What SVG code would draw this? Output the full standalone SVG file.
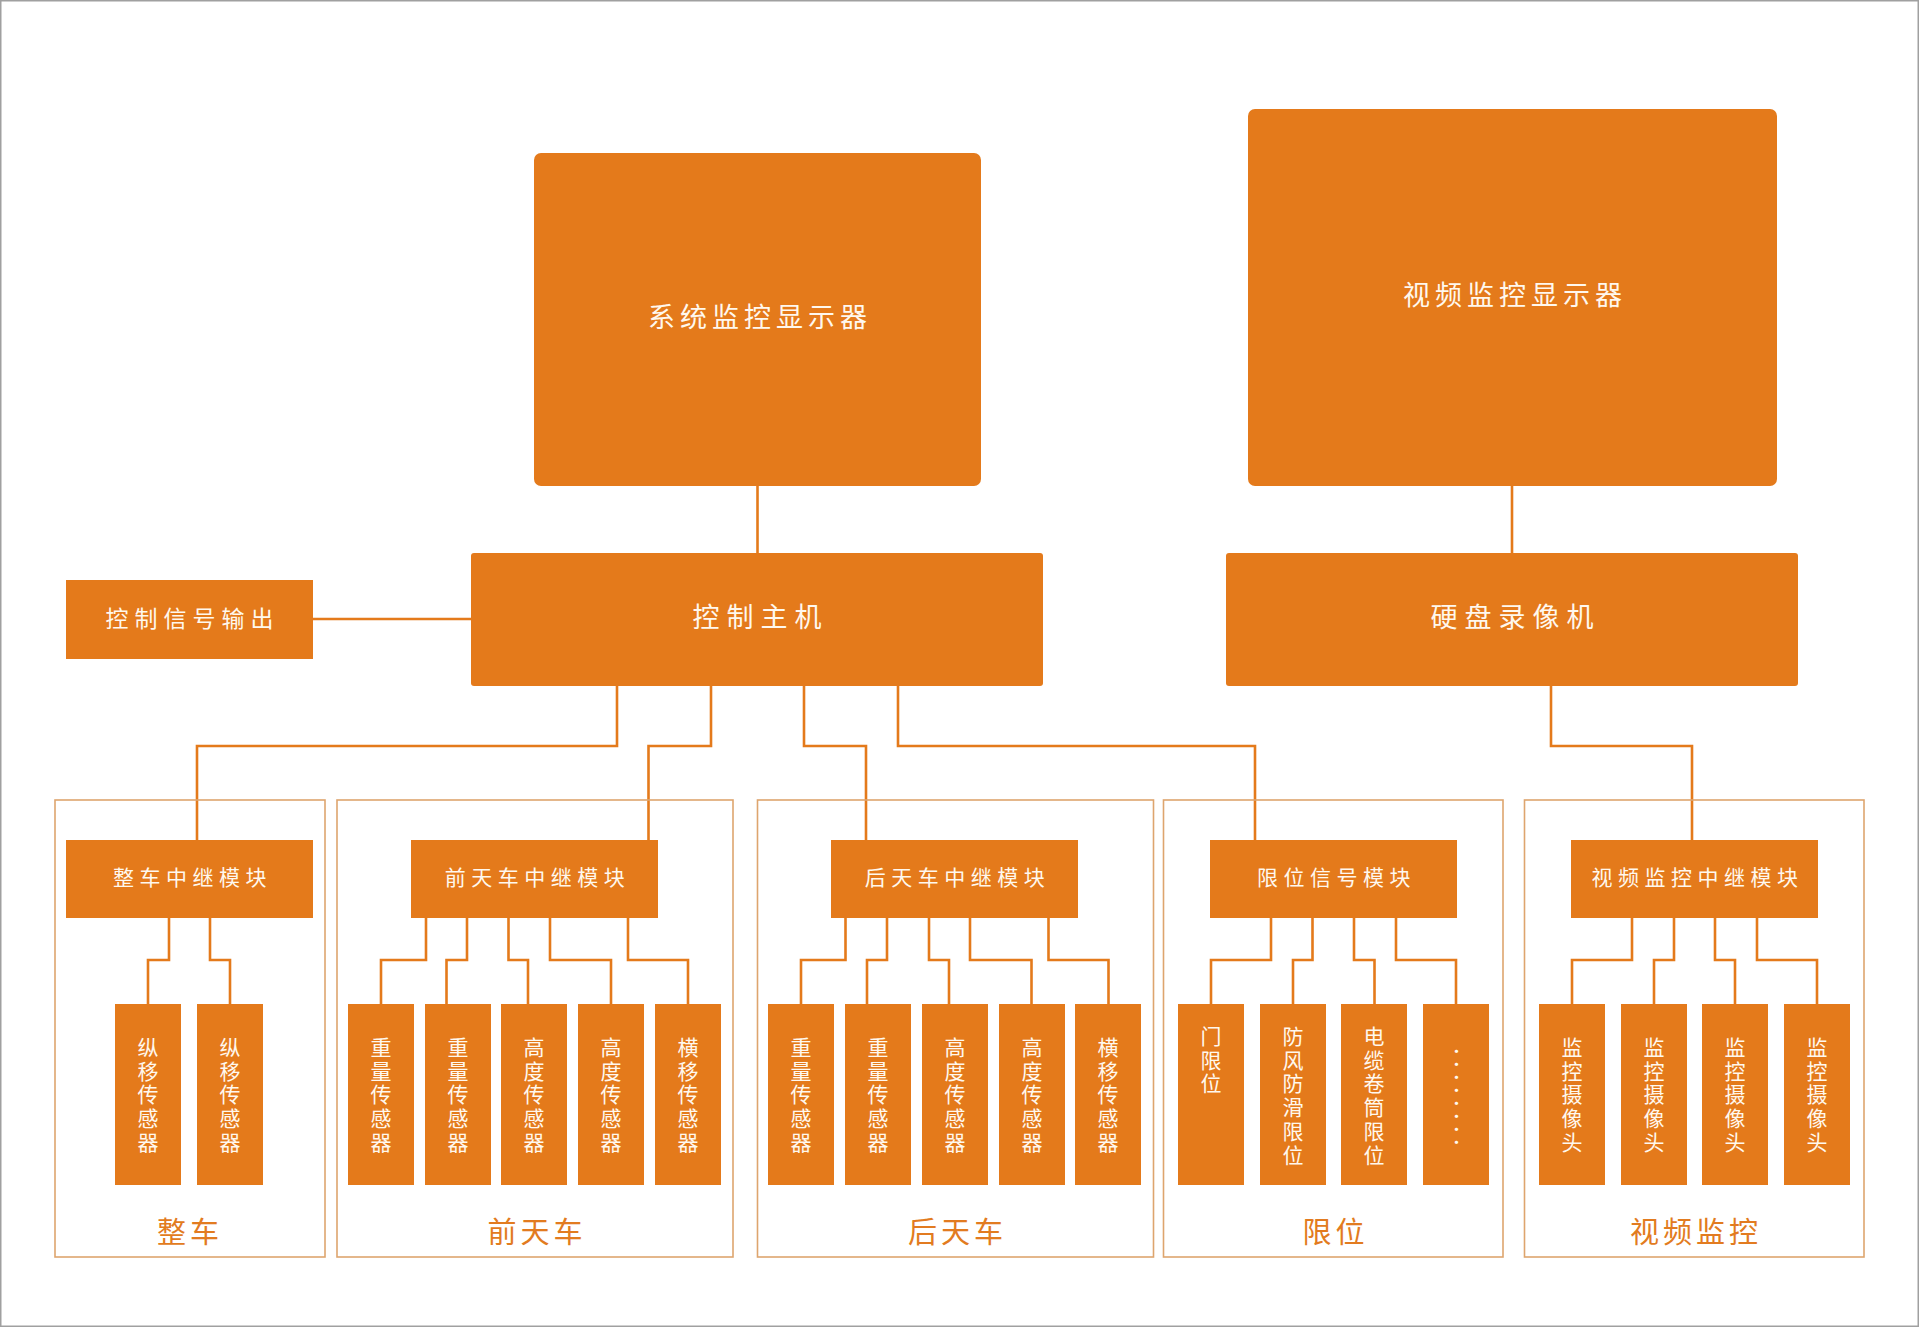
<svg xmlns="http://www.w3.org/2000/svg" width="1920" height="1327" viewBox="0 0 1920 1327">
<style>
.box{fill:#E47A1B}
.grp{fill:none;stroke:#DEA56E;stroke-width:1.6}
.wire{fill:none;stroke:#E47A1B;stroke-width:2.6}
text{font-family:"Noto Sans CJK SC","Noto Sans",sans-serif;fill:#FFF8EE;text-anchor:middle}
.big{font-size:27px;letter-spacing:5px}
.host{font-size:27px;letter-spacing:7px}
.mid{font-size:23px;letter-spacing:6px}
.relay{font-size:21px;letter-spacing:5.5px}
.vert{font-size:21px;letter-spacing:2.75px;writing-mode:vertical-rl;text-anchor:start}
.lbl{font-size:29px;letter-spacing:4px;fill:#E27B20}
.dots{font-size:13px;font-weight:700;writing-mode:vertical-rl;text-orientation:upright;text-anchor:start}
</style>
<rect x="0.75" y="0.75" width="1917.5" height="1325.5" fill="#FFFFFF" stroke="#A0A0A0" stroke-width="1.5"/>

<g id="connectors">
<path class="wire" d="M757.5,486V553"/>
<path class="wire" d="M1512,486V553"/>
<path class="wire" d="M313,619H471"/>
<path class="wire" d="M617,686V746H197V840"/>
<path class="wire" d="M711,686V746H648.5V840"/>
<path class="wire" d="M804,686V746H866V840"/>
<path class="wire" d="M898,686V746H1255V840"/>
<path class="wire" d="M1551,686V746H1692V840"/>
<path class="wire" d="M169,918V960H148V1004M210,918V960H230V1004"/>
<path class="wire" d="M426,918V960H381V1004M467,918V960H446.5V1004M508.5,918V960H528V1004M550,918V960H611V1004M628,918V960H688V1004"/>
<path class="wire" d="M845.5,918V960H801V1004M887,918V960H867V1004M929,918V960H949V1004M970,918V960H1031.5V1004M1048.5,918V960H1108.5V1004"/>
<path class="wire" d="M1271,918V960H1211V1004M1312.5,918V960H1293V1004M1354,918V960H1374.5V1004M1396,918V960H1456V1004"/>
<path class="wire" d="M1632,918V960H1572V1004M1674,918V960H1654V1004M1715,918V960H1735V1004M1757,918V960H1817V1004"/>
</g>

<g id="sys-monitor"><rect class="box" x="534" y="153" width="447" height="333" rx="7"/><text class="big" x="760" y="327">系统监控显示器</text></g>
<g id="video-monitor"><rect class="box" x="1248" y="109" width="529" height="377" rx="7"/><text class="big" x="1515" y="304.5">视频监控显示器</text></g>
<g id="control-host"><rect class="box" x="471" y="553" width="572" height="133" rx="3"/><text class="host" x="760.5" y="627">控制主机</text></g>
<g id="dvr"><rect class="box" x="1226" y="553" width="572" height="133" rx="3"/><text class="host" x="1515.5" y="627">硬盘录像机</text></g>
<g id="signal-out"><rect class="box" x="66" y="580" width="247" height="79"/><text class="mid" x="192.5" y="626.5">控制信号输出</text></g>

<g id="group-whole"><rect class="grp" x="55" y="800" width="270" height="457"/><text class="lbl" x="190" y="1242.5">整车</text></g>
<g id="group-front"><rect class="grp" x="337" y="800" width="396" height="457"/><text class="lbl" x="537" y="1242.5">前天车</text></g>
<g id="group-rear"><rect class="grp" x="757.5" y="800" width="396" height="457"/><text class="lbl" x="957.5" y="1242.5">后天车</text></g>
<g id="group-limit"><rect class="grp" x="1163.5" y="800" width="339.5" height="457"/><text class="lbl" x="1335.5" y="1242.5">限位</text></g>
<g id="group-video"><rect class="grp" x="1524.5" y="800" width="339.5" height="457"/><text class="lbl" x="1696" y="1242.5">视频监控</text></g>

<g id="relay-whole"><rect class="box" x="66" y="840" width="247" height="78"/><text class="relay" x="192.5" y="885">整车中继模块</text></g>
<g id="relay-front"><rect class="box" x="411" y="840" width="247" height="78"/><text class="relay" x="537.5" y="885">前天车中继模块</text></g>
<g id="relay-rear"><rect class="box" x="831" y="840" width="247" height="78"/><text class="relay" x="957.5" y="885">后天车中继模块</text></g>
<g id="relay-limit"><rect class="box" x="1210" y="840" width="247" height="78"/><text class="relay" x="1336.5" y="885">限位信号模块</text></g>
<g id="relay-video"><rect class="box" x="1571" y="840" width="247" height="78"/><text class="relay" x="1697.5" y="885">视频监控中继模块</text></g>

<g id="w1"><rect class="box" x="115" y="1004" width="66" height="181"/><text class="vert" x="148" y="1036.5">纵移传感器</text></g>
<g id="w2"><rect class="box" x="197" y="1004" width="66" height="181"/><text class="vert" x="230" y="1036.5">纵移传感器</text></g>

<g id="f1"><rect class="box" x="348" y="1004" width="66" height="181"/><text class="vert" x="381" y="1036.5">重量传感器</text></g>
<g id="f2"><rect class="box" x="425" y="1004" width="66" height="181"/><text class="vert" x="458" y="1036.5">重量传感器</text></g>
<g id="f3"><rect class="box" x="501" y="1004" width="66" height="181"/><text class="vert" x="534" y="1036.5">高度传感器</text></g>
<g id="f4"><rect class="box" x="578" y="1004" width="66" height="181"/><text class="vert" x="611" y="1036.5">高度传感器</text></g>
<g id="f5"><rect class="box" x="655" y="1004" width="66" height="181"/><text class="vert" x="688" y="1036.5">横移传感器</text></g>

<g id="r1"><rect class="box" x="768" y="1004" width="66" height="181"/><text class="vert" x="801" y="1036.5">重量传感器</text></g>
<g id="r2"><rect class="box" x="845" y="1004" width="66" height="181"/><text class="vert" x="878" y="1036.5">重量传感器</text></g>
<g id="r3"><rect class="box" x="922" y="1004" width="66" height="181"/><text class="vert" x="955" y="1036.5">高度传感器</text></g>
<g id="r4"><rect class="box" x="999" y="1004" width="66" height="181"/><text class="vert" x="1032" y="1036.5">高度传感器</text></g>
<g id="r5"><rect class="box" x="1075" y="1004" width="66" height="181"/><text class="vert" x="1108" y="1036.5">横移传感器</text></g>

<g id="l1"><rect class="box" x="1178" y="1004" width="66" height="181"/><text class="vert" x="1211" y="1025.5">门限位</text></g>
<g id="l2"><rect class="box" x="1260" y="1004" width="66" height="181"/><text class="vert" x="1293" y="1025.5">防风防滑限位</text></g>
<g id="l3"><rect class="box" x="1341" y="1004" width="66" height="181"/><text class="vert" x="1374" y="1025.5">电缆卷筒限位</text></g>
<g id="l4"><rect class="box" x="1423" y="1004" width="66" height="181"/><text class="dots" x="1456.5" y="1044.5">········</text></g>

<g id="v1"><rect class="box" x="1539" y="1004" width="66" height="181"/><text class="vert" x="1572" y="1036.5">监控摄像头</text></g>
<g id="v2"><rect class="box" x="1621" y="1004" width="66" height="181"/><text class="vert" x="1654" y="1036.5">监控摄像头</text></g>
<g id="v3"><rect class="box" x="1702" y="1004" width="66" height="181"/><text class="vert" x="1735" y="1036.5">监控摄像头</text></g>
<g id="v4"><rect class="box" x="1784" y="1004" width="66" height="181"/><text class="vert" x="1817" y="1036.5">监控摄像头</text></g>
</svg>
